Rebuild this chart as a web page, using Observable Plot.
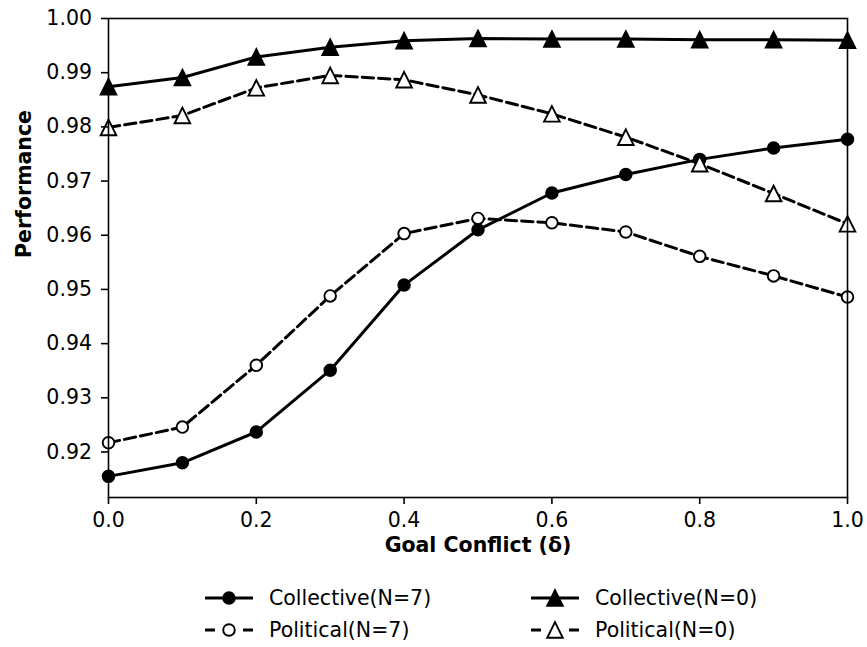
<!DOCTYPE html>
<html>
<head>
<meta charset="utf-8">
<script src="https://cdn.jsdelivr.net/npm/d3@7"></script>
<script src="https://cdn.jsdelivr.net/npm/@observablehq/plot@0.6"></script>
<style>
  html, body { margin: 0; padding: 0; background: #fff; }
  body { width: 867px; font-family: "DejaVu Sans", sans-serif; }
  #legend { position: relative; height: 82px; }
  .item { position: absolute; display: flex; align-items: center; font-size: 20.5px; color: #000; line-height: 24px; }
  .item svg { margin-right: 16px; display: block; }
</style>
</head>
<body>
<div id="chart"></div>
<div id="legend"></div>
<script>
const delta = [0.0, 0.1, 0.2, 0.3, 0.4, 0.5, 0.6, 0.7, 0.8, 0.9, 1.0];
const collectiveN7 = [0.9155, 0.9180, 0.9237, 0.9351, 0.9508, 0.9610, 0.9678, 0.9712, 0.9740, 0.9761, 0.9777];
const politicalN7  = [0.9217, 0.9246, 0.9360, 0.9488, 0.9603, 0.9631, 0.9623, 0.9606, 0.9561, 0.9525, 0.9486];
const collectiveN0 = [0.9874, 0.9891, 0.9929, 0.9947, 0.9959, 0.9963, 0.9962, 0.9962, 0.9961, 0.9961, 0.9960];
const politicalN0  = [0.9799, 0.9821, 0.9872, 0.9895, 0.9887, 0.9859, 0.9824, 0.9781, 0.9732, 0.9677, 0.9621];
const seriesNames = ["Collective(N=7)", "Political(N=7)", "Collective(N=0)", "Political(N=0)"];
const xTicks = [0, 0.2, 0.4, 0.6, 0.8, 1.0];
const yTicks = [0.92, 0.93, 0.94, 0.95, 0.96, 0.97, 0.98, 0.99, 1.00];

// matplotlib-style "^" marker: base width = height
const triangleUp = {
  draw(context, size) {
    const r = Math.sqrt(size / Math.PI);
    context.moveTo(0, -r);
    context.lineTo(r, r);
    context.lineTo(-r, r);
    context.closePath();
  }
};

const seriesValues = [collectiveN7, politicalN7, collectiveN0, politicalN0];
const styles = [
  {dash: null, symbol: "circle", fill: "black", r: 5.8},
  {dash: "11.4,4.9", symbol: "circle", fill: "white", r: 5.8},
  {dash: null, symbol: triangleUp, fill: "black", r: 7.8},
  {dash: "11.4,4.9", symbol: triangleUp, fill: "white", r: 7.8}
];
const rows = seriesNames.map((name, i) => delta.map((d, j) => ({series: name, x: d, y: seriesValues[i][j]})));

const marks = [];
rows.forEach((data, i) => {
  const s = styles[i];
  marks.push(Plot.line(data, {x: "x", y: "y", stroke: "black", strokeWidth: 3, strokeDasharray: s.dash || undefined}));
  marks.push(Plot.dot(data, {x: "x", y: "y", symbol: s.symbol, r: s.r, fill: s.fill, stroke: "black", strokeWidth: 1.9}));
});

const chart = Plot.plot({
  width: 867,
  height: 565,
  marginLeft: 108,
  marginRight: 20,
  marginTop: 18,
  marginBottom: 68,
  style: {fontFamily: "DejaVu Sans, sans-serif", fontSize: "20.5px", color: "black", background: "white", overflow: "visible"},
  x: {domain: [0, 1]},
  y: {domain: [0.9116, 1.0]},
  marks: [
    ...marks,
    Plot.frame({stroke: "black", strokeWidth: 1.6}),
    Plot.axisX({ticks: xTicks, tickFormat: d3.format(".1f"), tickSize: 7, tickPadding: 8, strokeWidth: 1.6, label: null, fontSize: 20.5}),
    Plot.axisY({ticks: yTicks, tickFormat: d3.format(".2f"), tickSize: 7, tickPadding: 9.5, strokeWidth: 1.6, label: null, fontSize: 20.5}),
    Plot.text(["Goal Conflict (δ)"], {frameAnchor: "bottom", dy: 54, text: d => d, fontWeight: "bold", fontSize: 20.5}),
    Plot.text(["Performance"], {frameAnchor: "left", dx: -84, rotate: -90, text: d => d, fontWeight: "bold", fontSize: 20.5})
  ]
});
document.getElementById("chart").appendChild(chart);

// Legend
const legend = document.getElementById("legend");
const positions = [[205, 33], [205, 65], [531, 33], [531, 65]];
seriesNames.forEach((name, i) => {
  const s = styles[i];
  const div = document.createElement("div");
  div.className = "item";
  div.style.left = positions[i][0] + "px";
  div.style.top = (positions[i][1] - 12) + "px";
  const ns = "http://www.w3.org/2000/svg";
  const svg = document.createElementNS(ns, "svg");
  svg.setAttribute("width", 48); svg.setAttribute("height", 24);
  svg.style.overflow = "visible";
  const line = document.createElementNS(ns, "line");
  line.setAttribute("x1", 0); line.setAttribute("x2", 48); line.setAttribute("y1", 12); line.setAttribute("y2", 12);
  line.setAttribute("stroke", "black"); line.setAttribute("stroke-width", 3);
  if (s.dash) line.setAttribute("stroke-dasharray", "10,28,10");
  svg.appendChild(line);
  const path = document.createElementNS(ns, "path");
  const sym = s.symbol === "circle" ? d3.symbolCircle : s.symbol;
  path.setAttribute("d", d3.symbol(sym, Math.PI * s.r * s.r)());
  path.setAttribute("transform", "translate(24,12)");
  path.setAttribute("fill", s.fill); path.setAttribute("stroke", "black"); path.setAttribute("stroke-width", 1.9);
  svg.appendChild(path);
  div.appendChild(svg);
  const span = document.createElement("span");
  span.textContent = name;
  div.appendChild(span);
  legend.appendChild(div);
});
</script>
</body>
</html>
